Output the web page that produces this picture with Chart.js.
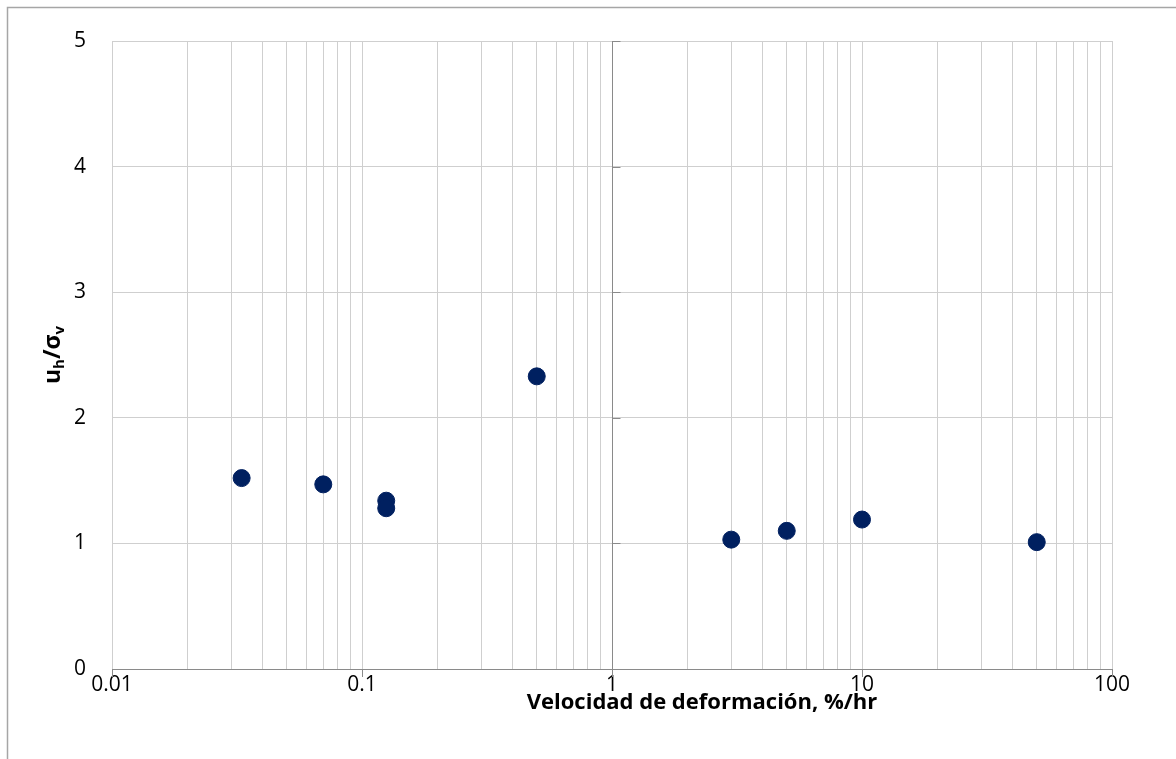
<!DOCTYPE html>
<html>
<head>
<meta charset="utf-8">
<script src="https://cdn.jsdelivr.net/npm/chart.js@4"></script>
<style>
  html, body { margin:0; padding:0; background:#fff; }
  #wrap { width:1176px; height:759px; position:relative; }
</style>
</head>
<body>
<div id="wrap"><canvas id="chart" width="1176" height="759"></canvas></div>
<script>
// data
const rates = [0.033, 0.07, 0.125, 0.125, 0.5, 3, 5, 10, 50];
const ratios = [1.52, 1.47, 1.34, 1.28, 2.33, 1.03, 1.10, 1.19, 1.01];
const xMajors = [0.01, 0.1, 1, 10, 100];
const yTicks = [0, 1, 2, 3, 4, 5];
const xTitle = 'Velocidad de deformación, %/hr';

const FONT = '"Open Sans", "Noto Sans", sans-serif';
const GRID = '#cfcfcf';
const AXIS = '#8a8a8a';

const isMajor = v => xMajors.some(m => Math.abs(m - v) / m < 1e-6);

// axis at x=1, tick marks, titles, outer frame
const extras = {
  id: 'extras',
  beforeDatasetsDraw(chart) {
    const { ctx, chartArea: a, scales: { x, y } } = chart;
    ctx.save();
    ctx.strokeStyle = AXIS; ctx.lineWidth = 1;
    const xp = Math.round(x.getPixelForValue(1)) + 0.5;
    ctx.beginPath();
    ctx.moveTo(xp, a.top); ctx.lineTo(xp, a.bottom);
    yTicks.forEach(v => {
      const yp = Math.round(y.getPixelForValue(v)) + 0.5;
      ctx.moveTo(xp, yp); ctx.lineTo(xp + 8, yp);
    });
    xMajors.forEach(v => {
      const p = Math.round(x.getPixelForValue(v)) + 0.5;
      ctx.moveTo(p, a.bottom); ctx.lineTo(p, a.bottom + 8);
    });
    ctx.stroke();
    ctx.restore();
  },
  afterDraw(chart) {
    const { ctx, chartArea: a } = chart;
    ctx.save();
    // outer frame
    ctx.strokeStyle = '#a6a6a6'; ctx.lineWidth = 1.5;
    ctx.beginPath();
    ctx.moveTo(7.5, 759); ctx.lineTo(7.5, 7.5); ctx.lineTo(1176, 7.5);
    ctx.stroke();

    // x title
    ctx.fillStyle = '#000';
    ctx.font = 'bold 22px ' + FONT;
    ctx.textAlign = 'center'; ctx.textBaseline = 'middle';
    ctx.fillText(xTitle, 702, 703);

    // y title u_h / sigma_v, rotated
    ctx.translate(53, (a.top + a.bottom) / 2);
    ctx.rotate(-Math.PI / 2);
    const big = 'bold 23px ' + FONT, small = 'bold 15px ' + FONT;
    const parts = [['u', big, 0], ['h', small, 7], ['/σ', big, 0], ['v', small, 7]];
    let w = 0;
    parts.forEach(p => { ctx.font = p[1]; w += ctx.measureText(p[0]).width; });
    let cx = -w / 2;
    ctx.textAlign = 'left';
    parts.forEach(p => {
      ctx.font = p[1];
      ctx.fillText(p[0], cx, p[2]);
      cx += ctx.measureText(p[0]).width;
    });
    ctx.restore();
  }
};

new Chart(document.getElementById('chart'), {
  type: 'scatter',
  data: {
    datasets: [{
      data: rates.map((r, i) => ({ x: r, y: ratios[i] })),
      backgroundColor: '#002060',
      borderColor: '#002060',
      pointRadius: 8.5,
      pointHoverRadius: 8.5
    }]
  },
  options: {
    responsive: false,
    animation: false,
    layout: { padding: { top: 41, right: 64, left: 0, bottom: 0 } },
    plugins: { legend: { display: false }, tooltip: { enabled: false } },
    scales: {
      x: {
        type: 'logarithmic',
        min: 0.01, max: 100,
        afterFit: s => { s.height = 90; },
        afterBuildTicks: s => {
          const t = [];
          for (let e = -2; e < 2; e++)
            for (let m = 1; m < 10; m++) t.push({ value: m * Math.pow(10, e) });
          t.push({ value: 100 });
          s.ticks = t;
        },
        ticks: {
          autoSkip: false, maxRotation: 0, padding: 3,
          color: '#000', font: { family: FONT, size: 21 },
          callback: v => isMajor(v) ? String(+v.toPrecision(3)) : ''
        },
        grid: { color: GRID, drawTicks: false, lineWidth: 1 },
        border: { display: true, color: AXIS, width: 1 }
      },
      y: {
        min: 0, max: 5,
        afterFit: s => { s.width = 112; },
        ticks: {
          stepSize: 1, padding: 26,
          color: '#000', font: { family: FONT, size: 21 }
        },
        grid: { color: GRID, drawTicks: false, lineWidth: 1 },
        border: { display: false }
      }
    }
  },
  plugins: [extras]
});
</script>
</body>
</html>
